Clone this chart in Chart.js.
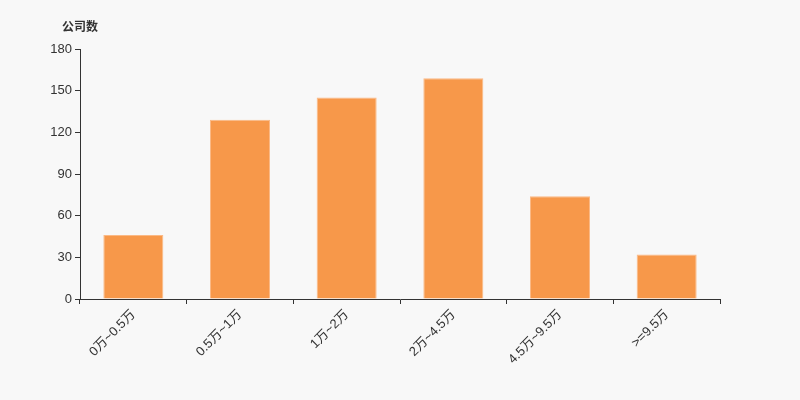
<!DOCTYPE html>
<html><head><meta charset="utf-8">
<script src="https://cdn.jsdelivr.net/npm/chart.js@4"></script>
<style>html,body{margin:0;padding:0;background:#f8f8f8;}#w{width:800px;height:400px;}</style>
</head><body><div id="w"><canvas id="c"></canvas></div>
<script>
const categories = ["0万~0.5万","0.5万~1万","1万~2万","2万~4.5万","4.5万~9.5万",">=9.5万"];
const values = [46,129,145,159,74,32];
const yTicks = [0,30,60,90,120,150,180];
const yTitle = "公司数";
const FONT = "'Liberation Sans','Noto Sans CJK SC',sans-serif";
const titlePlugin = {id:'yt', afterDraw(ch){const c=ch.ctx;c.save();c.font="bold 12px "+FONT;c.fillStyle="#333";c.textAlign="left";c.textBaseline="middle";c.fillText(yTitle,62,28);c.restore();}};
new Chart(document.getElementById('c'),{
 type:'bar',
 data:{labels:categories,datasets:[{data:values,backgroundColor:'#f7984a',borderColor:'#fbb985',borderWidth:1,categoryPercentage:1,barPercentage:0.5625}]},
 options:{responsive:true,maintainAspectRatio:false,animation:false,
  layout:{padding:{top:49,right:80,left:0,bottom:0}},
  plugins:{legend:{display:false},tooltip:{enabled:false}},
  scales:{
   x:{offset:true,grid:{display:true,offset:true,drawOnChartArea:false,color:'#333',tickLength:5},border:{color:'#333',width:1},
      ticks:{color:'#333',font:{size:13,family:FONT},maxRotation:45,minRotation:45,padding:3},
      afterFit(s){s.height=101;}},
   y:{min:0,max:180,grid:{display:true,drawOnChartArea:false,color:'#333',tickLength:5},border:{color:'#333',width:1},
      afterBuildTicks(s){s.ticks=yTicks.map(v=>({value:v}));},
      ticks:{color:'#333',font:{size:13,family:FONT},padding:3},
      afterFit(s){s.width=80;}}
  }}
 ,plugins:[titlePlugin]});
</script></body></html>
